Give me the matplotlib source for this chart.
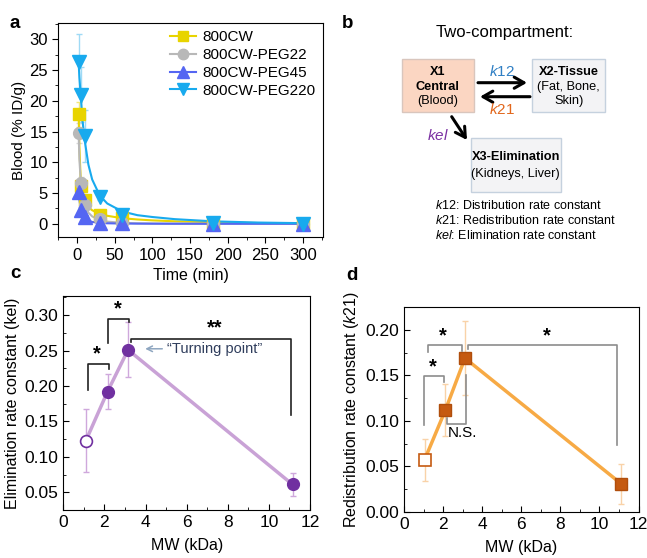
import numpy as np
import matplotlib
matplotlib.use("Agg")
import matplotlib.pyplot as plt
from matplotlib.patches import Rectangle, FancyArrowPatch
from matplotlib.ticker import MultipleLocator

plt.rcParams['font.family'] = ['Liberation Sans', 'DejaVu Sans']
plt.rcParams['mathtext.fontset'] = 'custom'
plt.rcParams['mathtext.rm'] = 'Liberation Sans'
plt.rcParams['mathtext.it'] = 'Liberation Sans:italic'

# ---- panel a: blood clearance ----
time_pts = [2, 5, 10, 30, 60, 180, 300]
cw800 = [17.8, 6.2, 3.9, 1.5, 0.9, 0.1, 0.0]
cw800_err = [2.0, 1.0, 0.5, 0.3, 0.2, 0.05, 0.02]
peg22 = [14.8, 6.6, 3.0, 0.8, 0.1, 0.0, 0.0]
peg22_err = [1.6, 1.0, 0.5, 0.2, 0.05, 0.02, 0.02]
peg45 = [5.2, 2.3, 1.1, 0.2, 0.1, 0.0, 0.0]
peg45_err = [0.8, 0.5, 0.3, 0.1, 0.05, 0.02, 0.02]
peg220 = [26.3, 21.0, 14.3, 4.4, 1.5, 0.2, 0.0]
peg220_err = [4.5, 4.5, 4.2, 0.5, 0.3, 0.1, 0.05]

# fitted curves
fit_t = [2, 3, 5, 7, 10, 15, 20, 30, 40, 60, 80, 100, 130, 180, 240, 300]
fit_cw800 = [17.8, 12.5, 6.5, 4.8, 3.7, 2.7, 2.2, 1.6, 1.3, 0.9, 0.7, 0.55, 0.4, 0.25, 0.12, 0.06]
fit_peg22 = [14.8, 10.5, 6.6, 4.5, 3.0, 1.8, 1.2, 0.6, 0.35, 0.15, 0.08, 0.05, 0.03, 0.02, 0.01, 0.0]
fit_peg45 = [5.2, 3.9, 2.3, 1.6, 1.0, 0.5, 0.3, 0.15, 0.08, 0.04, 0.02, 0.01, 0.0, 0.0, 0.0, 0.0]
fit_peg220 = [26.3, 23.8, 20.5, 17.0, 13.6, 9.6, 7.2, 4.6, 3.3, 2.0, 1.4, 1.1, 0.75, 0.4, 0.2, 0.1]

# ---- panels c, d ----
mw = [1.1, 2.15, 3.15, 11.15]
kel = [0.123, 0.192, 0.251, 0.061]
kel_err = [0.044, 0.025, 0.039, 0.016]
mw_d = [1.05, 2.12, 3.12, 11.1]
k21 = [0.057, 0.112, 0.169, 0.031]
k21_err = [0.023, 0.029, 0.041, 0.022]

fig = plt.figure(figsize=(6.47, 5.58), dpi=100)
W, H = 647, 558


def px_axes(l, t, r, b):
    return fig.add_axes([l / W, 1 - b / H, (r - l) / W, (b - t) / H])


# ------------------ a ------------------
ax = px_axes(58.3, 22.7, 323.3, 237.3)
series = [
    ('800CW', cw800, cw800_err, fit_cw800, '#e8d400', '#f2e77a', 's', 8),
    ('800CW-PEG22', peg22, peg22_err, fit_peg22, '#b8b8b8', '#d8d8d8', 'o', 8.5),
    ('800CW-PEG45', peg45, peg45_err, fit_peg45, '#5566f2', '#a9b2f7', '^', 10),
    ('800CW-PEG220', peg220, peg220_err, fit_peg220, '#18aaee', '#9fdaf5', 'v', 10),
]
for name, y, e, fy, c, ec, m, ms in series:
    ax.errorbar(time_pts, y, yerr=e, fmt='none', ecolor=ec, elinewidth=1, capsize=2.5, zorder=2)
    ax.plot(fit_t, fy, color=c, lw=1.5, zorder=3)
    ax.plot(time_pts, y, ls='none', marker=m, ms=ms, color=c, zorder=4)
    ax.plot([], [], color=c, lw=1.5, marker=m, ms=ms - 1, label=name)
ax.set_xlim(-25, 327)
ax.set_ylim(-2.2, 32.7)
ax.xaxis.set_major_locator(MultipleLocator(50))
ax.xaxis.set_minor_locator(MultipleLocator(25))
ax.yaxis.set_major_locator(MultipleLocator(5))
ax.yaxis.set_minor_locator(MultipleLocator(2.5))
ax.tick_params(which='both', direction='out', labelsize=12)
ax.tick_params(which='major', length=4)
ax.tick_params(which='minor', length=2.5)
ax.set_xlabel('Time (min)', fontsize=11.5)
ax.set_ylabel('Blood (% ID/g)', fontsize=11, labelpad=2)
ax.legend(loc='upper right', frameon=False, fontsize=11, handlelength=1.75,
          borderaxespad=0.1, labelspacing=0.25, handletextpad=0.4,
          bbox_to_anchor=(1.0, 1.0))


# ------------------ c ------------------
def style_kin(a, ylim, ymaj, ymin_):
    a.set_xlim(0, 12)
    a.set_ylim(*ylim)
    a.xaxis.set_major_locator(MultipleLocator(2))
    a.xaxis.set_minor_locator(MultipleLocator(1))
    a.yaxis.set_major_locator(MultipleLocator(ymaj))
    a.yaxis.set_minor_locator(MultipleLocator(ymin_))
    a.tick_params(which='both', direction='in', labelsize=12.5)
    a.tick_params(which='major', length=4)
    a.tick_params(which='minor', length=2.5)
    a.set_xlabel('MW (kDa)', fontsize=11.5, labelpad=6)


axc = px_axes(63.3, 296, 310, 510)
axc.errorbar(mw, kel, yerr=kel_err, fmt='none', ecolor='#cfa8dc', elinewidth=1, capsize=2.5, zorder=2)
axc.plot(mw, kel, color='#c9a2d6', lw=2.5, zorder=3)
axc.plot(mw[1:], kel[1:], ls='none', marker='o', ms=8.5, color='#7030a0', zorder=4)
axc.plot(mw[:1], kel[:1], ls='none', marker='o', ms=8.5, mfc='white', mec='#7030a0', mew=1.2, zorder=4)
style_kin(axc, (0.025, 0.327), 0.05, 0.025)
axc.set_ylabel('Elimination rate constant (kel)', fontsize=11.5, labelpad=3)

# significance brackets (x0, x1, y_left_bottom, y_top, y_right_bottom, label, label_x)
br_c = [
    (1.2, 2.21, 0.195, 0.231, 0.224, '*', 1.64),
    (2.18, 3.19, 0.2605, 0.295, 0.290, '*', 2.63),
    (3.27, 11.08, 0.262, 0.267, 0.159, '**', 7.34),
]
for x0, x1, yl, yt, yr, lab, lx in br_c:
    axc.plot([x0, x0, x1, x1], [yl, yt, yt, yr], color='#222222', lw=1.2, zorder=5)
    axc.text(lx, yt + 0.001, lab, ha='center', va='bottom', fontsize=14.5, fontweight='bold')
axc.annotate('', xy=(3.85, 0.2525), xytext=(4.95, 0.2525),
             arrowprops=dict(arrowstyle='->', color='#8ea6c0', lw=1.1))
axc.text(5.05, 0.2525, '\u201cTurning point\u201d', color='#2f3d5c', fontsize=10.5, va='center')

# ------------------ d ------------------
axd = px_axes(404, 306.7, 638.5, 511.7)
axd.errorbar(mw_d, k21, yerr=k21_err, fmt='none', ecolor='#f9d2a8', elinewidth=1, capsize=2.5, zorder=2)
axd.plot(mw_d, k21, color='#f7aa45', lw=2.5, zorder=3)
axd.plot(mw_d[1:], k21[1:], ls='none', marker='s', ms=9, color='#c55a11', mec='#b04e0c', zorder=4)
axd.plot(mw_d[:1], k21[:1], ls='none', marker='s', ms=8.5, mfc='white', mec='#c55a11', mew=1.2, zorder=4)
style_kin(axd, (0, 0.2257), 0.05, 0.025)
axd.set_ylabel('Redistribution rate constant ($\\mathit{k}$21)', fontsize=11.5, labelpad=3)

br_d = [
    (1.0, 2.05, 0.095, 0.149, 0.143, '*', 1.48),
    (1.22, 2.96, 0.176, 0.183, 0.177, '*', 1.99),
    (3.25, 10.9, 0.179, 0.183, 0.073, '*', 7.29),
]
for x0, x1, yl, yt, yr, lab, lx in br_d:
    axd.plot([x0, x0, x1, x1], [yl, yt, yt, yr], color='#8c8c8c', lw=1.2, zorder=5)
    axd.text(lx, yt + 0.0005, lab, ha='center', va='bottom', fontsize=14.5, fontweight='bold')
axd.plot([2.22, 2.22, 3.17, 3.17], [0.103, 0.097, 0.097, 0.151], color='#8c8c8c', lw=1.2, zorder=5)
axd.text(2.24, 0.087, 'N.S.', fontsize=11, va='center', ha='left')

# ------------------ b (diagram) ------------------
axb = fig.add_axes([0, 0, 1, 1], zorder=-1)
axb.set_xlim(0, W)
axb.set_ylim(H, 0)
axb.axis('off')

boxes = [
    (401.7, 59.3, 474, 112.3, '#fbd6c2', '#d9c6bd'),
    (532.3, 59.3, 605, 112.3, '#f3f3f5', '#c5d1de'),
    (470.7, 138.3, 561, 191.7, '#f3f3f5', '#c5d1de'),
]
for l, t, r, b, fc, ec in boxes:
    axb.add_patch(Rectangle((l, t), r - l, b - t, facecolor=fc, edgecolor=ec, lw=1))

axb.text(505, 33, 'Two-compartment:', fontsize=12, ha='center', va='center')
fs_box = 9.2
axb.text(437.8, 71.7, 'X1', fontsize=fs_box, fontweight='bold', ha='center', va='center')
axb.text(437.8, 86.7, 'Central', fontsize=fs_box, fontweight='bold', ha='center', va='center')
axb.text(437.8, 100.7, '(Blood)', fontsize=fs_box, ha='center', va='center')
axb.text(568.7, 71.7, 'X2-Tissue', fontsize=fs_box, fontweight='bold', ha='center', va='center')
axb.text(568.7, 86.7, '(Fat, Bone,', fontsize=fs_box, ha='center', va='center')
axb.text(568.7, 100.7, 'Skin)', fontsize=fs_box, ha='center', va='center')
axb.text(515.8, 157.3, 'X3-Elimination', fontsize=fs_box, fontweight='bold', ha='center', va='center')
axb.text(515.8, 174.3, '(Kidneys, Liver)', fontsize=fs_box, ha='center', va='center')

arrows = [((478, 82.7), (527, 82.7)), ((530, 96.7), (480, 96.7)), ((451.7, 116.7), (467, 140))]
for p0, p1 in arrows:
    axb.add_patch(FancyArrowPatch(p0, p1, arrowstyle='->,head_length=7,head_width=4',
                                  color='black', lw=2.2, mutation_scale=1, shrinkA=0, shrinkB=0))
axb.text(502, 71, '$\\mathit{k}$12', color='#2f7fc4', fontsize=11, ha='center', va='center')
axb.text(501.7, 109, '$\\mathit{k}$21', color='#e2671c', fontsize=11, ha='center', va='center')
axb.text(438.3, 136, '$\\mathit{kel}$', color='#7a30a2', fontsize=11, ha='center', va='center')

legend_b = ['$\\mathit{k}$12: Distribution rate constant',
            '$\\mathit{k}$21: Redistribution rate constant',
            '$\\mathit{kel}$: Elimination rate constant']
for i, s in enumerate(legend_b):
    axb.text(435, 205.7 + 14.8 * i, s, fontsize=9, ha='left', va='center')

for lab, x, y in [('a', 15, 23), ('b', 348, 24), ('c', 15, 274), ('d', 352, 275)]:
    axb.text(x, y, lab, fontsize=13.5, fontweight='bold', ha='center', va='center')

fig.savefig('out.png', dpi=100)
